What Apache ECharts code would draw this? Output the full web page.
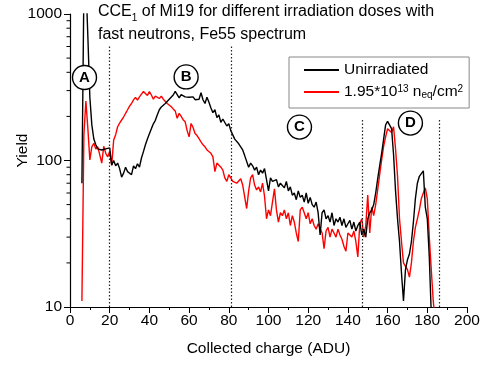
<!DOCTYPE html>
<html>
<head>
<meta charset="utf-8">
<script src="https://cdn.jsdelivr.net/npm/echarts@6/dist/echarts.min.js"></script>
<style>
  html, body { margin: 0; padding: 0; background: #fff; }
  #chart { width: 484px; height: 367px; }
</style>
</head>
<body>
<div id="chart"></div>
<script>
// Fe55 spectra, yield per ADU bin (first bin at 6 ADU)
const firstBin = 6;
const unirradiated = [
  70, 1500, 1700, 700, 270, 175, 140, 128, 120, 122, 118, 115, 120, 117, 122,
  93, 100, 92, 96, 88, 77, 82, 90, 84, 86, 80, 92, 88, 95, 90,
  104, 115, 128, 140, 152, 165, 178, 188, 205, 222, 232, 225, 245, 250, 262,
  258, 280, 296, 288, 268, 282, 275, 272, 280, 270, 268, 272, 260, 252, 262,
  290, 260, 245, 270, 250, 228, 212, 222, 196, 205, 182, 192, 198, 172, 178,
  160, 162, 140, 138, 130, 124, 118, 108, 110, 90, 96, 92, 86, 90, 80,
  86, 82, 88, 74, 62, 76, 72, 70, 74, 66, 70, 72, 65, 72, 62,
  66, 58, 60, 54, 62, 56, 58, 52, 60, 51, 56, 50, 48, 52, 44,
  31, 44, 46, 40, 42, 38, 44, 36, 40, 38, 41, 36, 40, 35, 37,
  39, 34, 38, 33, 36, 38, 31, 34, 30, 40, 44, 46, 50, 60, 75,
  92, 112, 140, 175, 185, 180, 165, 110, 62, 40, 28, 17, 11, 18, 21,
  23, 28, 38, 55, 70, 78, 80, 85, 48, 40, 22, 9
];
const irradiated = [
  11, 150, 255, 165, 101, 124, 131, 120, 124, 122, 96, 125, 112, 106, 115,
  93, 138, 150, 170, 180, 189, 198, 210, 222, 235, 245, 259, 270, 258, 272,
  280, 296, 290, 278, 295, 280, 262, 275, 270, 265, 275, 262, 258, 245, 238,
  233, 225, 218, 194, 210, 200, 190, 184, 160, 145, 179, 168, 153, 148, 141,
  134, 128, 124, 118, 115, 112, 106, 84, 96, 95, 90, 86, 76, 72, 80,
  78, 72, 74, 70, 72, 75, 68, 70, 47, 62, 76, 80, 68, 63, 66,
  61, 70, 57, 40, 46, 42, 52, 64, 46, 38, 44, 42, 46, 40, 44,
  36, 42, 38, 32, 28, 46, 48, 44, 40, 44, 37, 40, 36, 34, 37,
  36, 32, 25, 33, 35, 30, 34, 32, 30, 34, 31, 29, 26, 24, 32,
  33, 30, 33, 28, 22, 37, 40, 30, 36, 58, 32, 48, 42, 50, 63,
  80, 101, 125, 145, 165, 160, 155, 170, 120, 78, 40, 28, 20, 20, 18,
  16, 20, 28, 35, 40, 46, 55, 60, 65, 55, 30, 18, 11, 8
];

const legendKeys = ['Unirradiated', 'Irradiated'];
const legendTexts = ['Unirradiated', '1.95*10{sup|13} n{sub|eq}/cm{sup|2}'];

// Region boundaries (ADU) and how high each dotted marker reaches (yield)
const regionEdges = [20, 81, 147, 186];
const regionTops = [600, 600, 190, 190];

// Circled region tags
const regionTags = ['A', 'B', 'C', 'D'];
const regionTagX = [7.3, 58.5, 115.6, 171.5];
const regionTagY = [369, 372, 169, 180];

// Axis ticks
const xTicks = [0, 20, 40, 60, 80, 100, 120, 140, 160, 180, 200];
const yDecades = [10, 100, 1000];

const FONT = '"Liberation Sans", Arial, sans-serif';
const FS = 15.5;

function toPairs(values) {
  return values.map((v, i) => [firstBin + i, v]);
}

const chart = echarts.init(document.getElementById('chart'), null, { renderer: 'canvas' });

const option = {
  animation: false,
  backgroundColor: '#ffffff',
  textStyle: { fontFamily: FONT },
  title: {
    text: 'CCE{sub|1} of Mi19 for different irradiation doses with\nfast neutrons, Fe55 spectrum',
    left: 93,
    top: -5,
    textStyle: {
      fontFamily: FONT,
      fontSize: 16,
      fontWeight: 'normal',
      color: '#000',
      lineHeight: 23,
      rich: {
        sub: { fontSize: 10, fontFamily: FONT, verticalAlign: 'bottom', lineHeight: 19 }
      }
    }
  },
  legend: {
    orient: 'vertical',
    left: 289,
    top: 57,
    data: legendKeys,
    formatter: function (name) {
      return legendTexts[legendKeys.indexOf(name)];
    },
    borderColor: '#888',
    borderWidth: 1,
    padding: [5, 6, 8, 14],
    itemWidth: 35,
    itemHeight: 14,
    itemGap: 6,
    itemStyle: { color: 'rgba(0,0,0,0)', borderWidth: 0, opacity: 0 },
    textStyle: {
      fontFamily: FONT,
      fontSize: FS,
      color: '#000',
      rich: {
        sup: { fontSize: 10, fontFamily: FONT, verticalAlign: 'top', lineHeight: 12 },
        sub: { fontSize: 10, fontFamily: FONT, verticalAlign: 'bottom', lineHeight: 12 }
      }
    }
  },
  grid: { left: 70, right: 17, top: 14, bottom: 60, containLabel: false, outerBoundsMode: 'none' },
  xAxis: {
    type: 'value',
    min: xTicks[0],
    max: xTicks[xTicks.length - 1],
    interval: 20,
    name: 'Collected charge (ADU)',
    nameLocation: 'middle',
    nameGap: 34,
    nameMoveOverlap: false,
    nameTextStyle: { fontFamily: FONT, fontSize: FS, color: '#000' },
    axisLine: { lineStyle: { color: '#000', width: 1.2 } },
    axisTick: { inside: false, length: 6, lineStyle: { color: '#000' } },
    minorTick: { show: true, splitNumber: 2, length: 3, lineStyle: { color: '#000' } },
    axisLabel: { fontFamily: FONT, fontSize: FS, color: '#000', margin: 6 },
    splitLine: { show: false }
  },
  yAxis: {
    type: 'log',
    logBase: 10,
    min: yDecades[0],
    max: yDecades[yDecades.length - 1],
    name: 'Yield',
    nameLocation: 'middle',
    nameGap: 39,
    nameMoveOverlap: false,
    nameTextStyle: { fontFamily: FONT, fontSize: FS, color: '#000', padding: [0, 0, 0, 20] },
    axisLine: { show: true, lineStyle: { color: '#000', width: 1.2 } },
    axisTick: { show: true, inside: false, length: 6, lineStyle: { color: '#000' } },
    axisLabel: {
      fontFamily: FONT, fontSize: FS, color: '#000', margin: 8,
      formatter: function (v) { return String(Math.round(v)); }
    },
    splitLine: { show: false }
  },
  series: [
    {
      name: legendKeys[0],
      type: 'line',
      data: toPairs(unirradiated),
      showSymbol: false,
      symbol: 'none',
      lineStyle: { color: '#000', width: 1.4 },
      itemStyle: { color: '#000' },
      z: 3,
      markLine: {
        silent: true,
        symbol: 'none',
        label: { show: false },
        lineStyle: { color: '#222', type: [1.5, 2], width: 1.2 },
        data: regionEdges.map((x, i) => [
          { coord: [x, yDecades[0]] },
          { coord: [x, regionTops[i]] }
        ])
      }
    },
    {
      name: legendKeys[1],
      type: 'line',
      data: toPairs(irradiated),
      showSymbol: false,
      symbol: 'none',
      lineStyle: { color: '#ff0000', width: 1.4 },
      itemStyle: { color: '#ff0000' },
      z: 2
    },
    {
      name: 'tags',
      type: 'scatter',
      data: regionTags.map((t, i) => ({ value: [regionTagX[i], regionTagY[i]], name: t })),
      symbol: 'circle',
      symbolSize: 24,
      itemStyle: { color: '#fff', borderColor: '#000', borderWidth: 1.4, opacity: 1 },
      label: {
        show: true,
        position: 'inside',
        formatter: '{b}',
        fontFamily: FONT,
        fontSize: 15,
        fontWeight: 'bold',
        color: '#000'
      },
      z: 10,
      silent: true
    }
  ]
};

chart.setOption(option);

// Logarithmic minor ticks (2..9 per decade) placed through the axis scale
function drawLogMinorTicks() {
  const axisX = chart.convertToPixel({ xAxisIndex: 0 }, 0);
  const ticks = [];
  for (let d = 0; d < yDecades.length - 1; d++) {
    for (let m = 2; m <= 9; m++) {
      const y = chart.convertToPixel({ yAxisIndex: 0 }, yDecades[d] * m);
      ticks.push({
        type: 'line',
        shape: { x1: axisX - 3.5, y1: y, x2: axisX, y2: y },
        style: { stroke: '#000', lineWidth: 1 },
        silent: true
      });
    }
  }
  chart.setOption({ graphic: ticks });
}
drawLogMinorTicks();
</script>
</body>
</html>
